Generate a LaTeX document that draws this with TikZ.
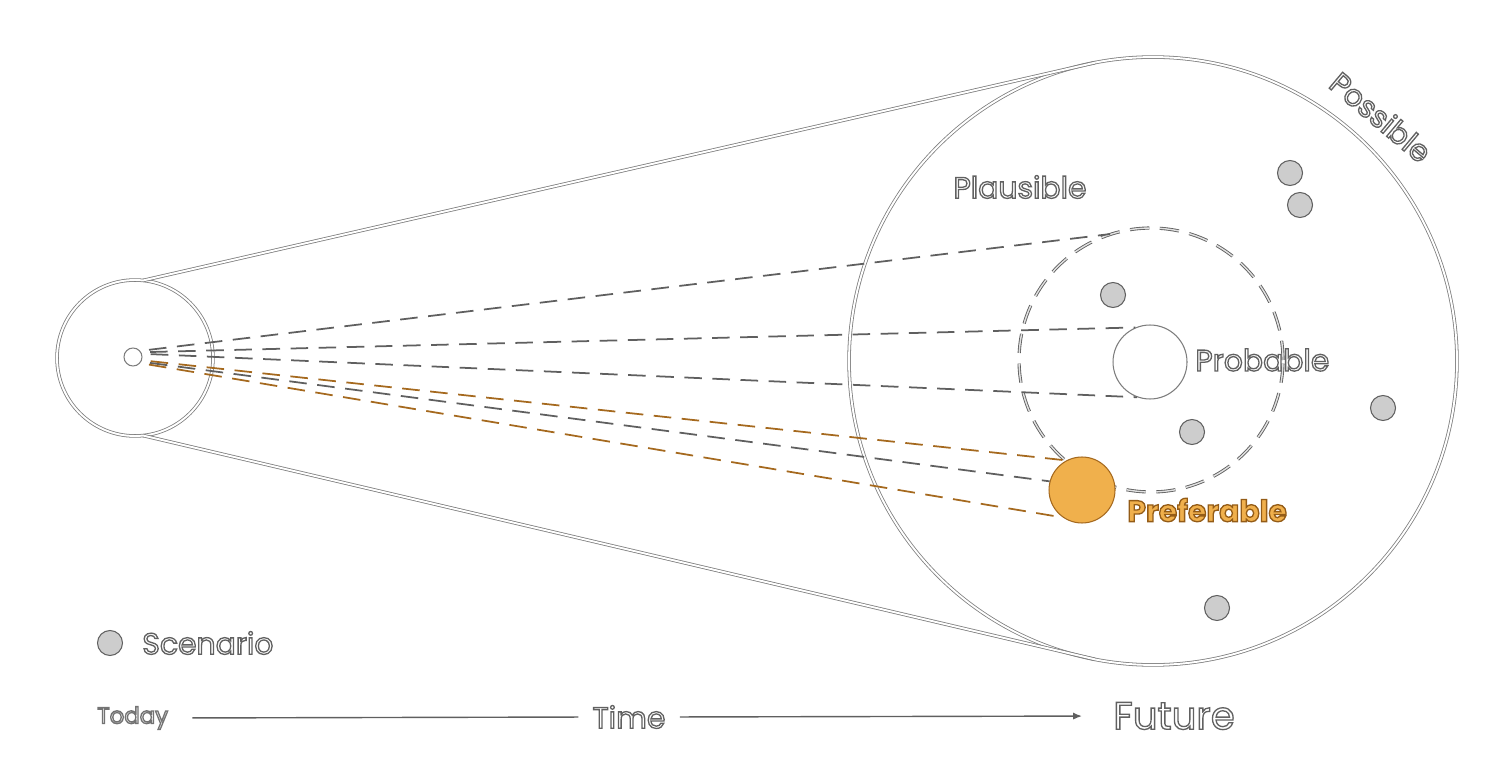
\documentclass[tikz,border=0pt]{standalone}
\usepackage{fontspec}
\setmainfont{Poppins}
\usetikzlibrary{arrows.meta}

\definecolor{ringgray}{RGB}{125,125,125}
\definecolor{dashgray}{RGB}{95,95,95}
\definecolor{dotgray}{RGB}{205,205,205}
\definecolor{prefill}{RGB}{240,176,76}
\definecolor{predark}{RGB}{165,105,30}

% hollow letters: fill in the text colour, stroke in the given rgb
\newcommand{\outl}[2][0.38 0.38 0.38]{\special{pdf:code 2 Tr 0.75 w #1 RG}#2\special{pdf:code 0 Tr}}

\begin{document}
\begin{tikzpicture}[
    x=0.02cm, y=-0.02cm,
    ring/.style={circle, draw=ringgray, double=white, double distance=1.1pt, line width=0.45pt, inner sep=0pt, outer sep=0pt},
    ringline/.style={draw=ringgray, double=white, double distance=1.1pt, line width=0.45pt},
    scen/.style={circle, draw=dashgray, fill=dotgray, line width=0.6pt, minimum size=0.5cm, inner sep=0pt},
    ray/.style={dashgray, line width=1pt, dash pattern=on 10pt off 6pt, shorten <=5pt},
    pray/.style={ray, predark},
    lab/.style={text=white, font=\fontsize{17}{20}\selectfont, inner sep=0pt}
]
\useasboundingbox (0,0) rectangle (1500,766);

% cone from today to the possible futures
\node[ring, minimum size=3.12cm] (today) at (135,358) {};
\node[ring, minimum size=12.16cm] (poss) at (1153,361) {};
\draw[ringline] (today.84) -- (poss.101);
\draw[ringline] (today.276) -- (poss.259);

\node[circle, draw=ringgray, fill=white, line width=0.6pt, minimum size=0.36cm, inner sep=0pt] (now) at (133,357) {};

\node[circle, draw=dashgray, double=dotgray!60, double distance=0.8pt, line width=0.5pt,
      dash pattern=on 11pt off 6pt, minimum size=5.28cm, inner sep=0pt] (plaus) at (1151,360) {};
\node[circle, draw=ringgray, fill=white, line width=0.6pt, minimum size=1.48cm, inner sep=0pt] (prob) at (1150,362) {};
\node[circle, draw=predark, fill=prefill, line width=0.6pt, minimum size=1.32cm, inner sep=0pt] (pref) at (1082,490) {};

% scenarios
\foreach \x/\y [count=\i] in {1290/173, 1300/205, 1113/295, 1192/432, 1383/408, 1217/608}
    \node[scen] (s\i) at (\x,\y) {};

\draw[ray] (now.40) -- (plaus.108);
\draw[ray] (now.30) -- (prob.113);
\draw[ray] (now.20) -- (prob.250);
\draw[pray] (now.-20) -- (pref.118);
\draw[ray] (now.-30) -- (pref.165);
\draw[pray] (now.-40) -- (pref.235);

% labels
\node[lab] (plauslbl) at (1020,187) {\outl{Plausible}};
\node[lab, anchor=west] (problbl) at (1195,360) {\outl{Probable}};
\node[lab, anchor=west, text=prefill, font=\fontsize{17}{20}\selectfont\bfseries] (preflbl) at (1127,510) {\outl[0.58 0.36 0.09]{Preferable}};
\node[lab, rotate=-40] (posslbl) at (1381,117) {\outl{Possible}};

% legend and time axis
\node[scen] (legdot) at (110,643) {};
\node[lab, anchor=west] (scenlbl) at (142,643) {\outl{Scenario}};
\node[lab, anchor=west, font=\fontsize{13}{16}\selectfont] (todaylbl) at (97,718) {\outl[0.45 0.45 0.45]{Today}};
\node[lab] (timelbl) at (629,717) {\outl{Time}};
\node[lab, anchor=west, font=\fontsize{22}{26}\selectfont] (futurelbl) at (1113,716) {\outl{Future}};
\draw[dashgray, line width=0.8pt, shorten <=0.48cm, shorten >=0.28cm] (todaylbl.east) -- (timelbl.west);
\draw[dashgray, line width=0.8pt, -{Latex[length=5pt, width=4pt]}, shorten <=0.28cm, shorten >=0.62cm] (timelbl.east) -- (futurelbl.west);
\end{tikzpicture}
\end{document}
